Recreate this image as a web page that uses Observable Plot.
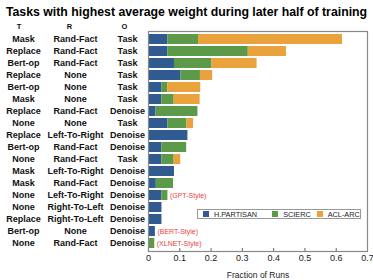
<!DOCTYPE html>
<html><head><meta charset="utf-8">
<script src="https://cdn.jsdelivr.net/npm/d3@7"></script>
<script src="https://cdn.jsdelivr.net/npm/@observablehq/plot@0.6"></script>
<style>
body{margin:0;background:#fff;font-family:"Liberation Sans",Arial,sans-serif;}
#wrap{position:relative;width:373px;height:280px;}
#legend{position:absolute;left:197px;top:209px;width:164px;height:10px;border:1px solid #999;background:#fff;display:flex;align-items:center;font-size:7.3px;color:#222;box-sizing:border-box;white-space:nowrap;}
#legend .sw{display:inline-block;width:6px;height:6px;margin-right:5px;}
</style></head>
<body><div id="wrap"></div>
<script>
const T = ["Mask","Replace","Bert-op","Replace","Bert-op","Mask","Replace","None","Replace","Bert-op","None","Mask","Mask","None","None","Replace","Bert-op","None"];
const R = ["Rand-Fact","Rand-Fact","Rand-Fact","None","None","None","Rand-Fact","None","Left-To-Right","Rand-Fact","Rand-Fact","Left-To-Right","Rand-Fact","Left-To-Right","Right-To-Left","Right-To-Left","None","Rand-Fact"];
const O = ["Task","Task","Task","Task","Task","Task","Denoise","Task","Denoise","Denoise","Task","Denoise","Denoise","Denoise","Denoise","Denoise","Denoise","Denoise"];
const hpartisan = [0.062,0.062,0.083,0.104,0.043,0.043,0.024,0.062,0.126,0.043,0.043,0.083,0.025,0.043,0.043,0.043,0.022,0.000];
const scierc    = [0.098,0.257,0.120,0.062,0.019,0.039,0.134,0.061,0.000,0.079,0.039,0.000,0.055,0.019,0.000,0.000,0.000,0.020];
const aclarc    = [0.460,0.122,0.144,0.039,0.105,0.083,0.000,0.021,0.000,0.000,0.021,0.000,0.000,0.000,0.000,0.000,0.000,0.000];
const notes = ["","","","","","","","","","","","","","(GPT-Style)","","","(BERT-Style)","(XLNET-Style)"];
const seriesNames = ["H.PARTISAN","SCIERC","ACL-ARC"];
const colors = ["#2f5b91","#5c9a49","#e9a23c"];
const xTicks = [0,0.1,0.2,0.3,0.4,0.5,0.6,0.7];
const title = "Tasks with highest average weight during later half of training";
const xLabel = "Fraction of Runs";
const headers = ["T","R","O"];

const idx = d3.range(T.length);
const rows = [];
idx.forEach(i => {
  rows.push({i, s: seriesNames[0], v: hpartisan[i]});
  rows.push({i, s: seriesNames[1], v: scierc[i]});
  rows.push({i, s: seriesNames[2], v: aclarc[i]});
});
const totals = idx.map(i => ({i, t: hpartisan[i]+scierc[i]+aclarc[i], n: notes[i]}));
const lab = idx.map(i => ({i, T: T[i], R: R[i], O: O[i]}));

const chart = Plot.plot({
  width: 373, height: 280,
  marginLeft: 148, marginRight: 6, marginTop: 31, marginBottom: 29,
  style: {fontFamily:"Liberation Sans, Arial, sans-serif", background:"#fff"},
  x: {domain:[0,0.7], ticks: xTicks},
  y: {domain: idx, padding: 0.17, axis: null},
  color: {domain: seriesNames, range: colors},
  marks: [
    Plot.barX(rows, Plot.stackX({x:"v", y:"i", fill:"s", order: seriesNames})),
    Plot.text(totals, {x:"t", y:"i", text:"n", textAnchor:"start", dx:2, fill:"#e8453c", fontSize:7}),
    Plot.text(lab, {y:"i", text:"T", frameAnchor:"left", dx:-125, textAnchor:"middle", fontWeight:"bold", fontSize:9, fill:"#111"}),
    Plot.text(lab, {y:"i", text:"R", frameAnchor:"left", dx:-73, textAnchor:"middle", fontWeight:"bold", fontSize:9, fill:"#111"}),
    Plot.text(lab, {y:"i", text:"O", frameAnchor:"left", dx:-21, textAnchor:"middle", fontWeight:"bold", fontSize:9, fill:"#111"}),
    Plot.text([headers[0]], {frameAnchor:"top-left", dx:-129.5, dy:-5, text:d=>d, lineAnchor:"middle", textAnchor:"middle", fontWeight:"bold", fontSize:7.5, fill:"#111"}),
    Plot.text([headers[1]], {frameAnchor:"top-left", dx:-79, dy:-5, text:d=>d, lineAnchor:"middle", textAnchor:"middle", fontWeight:"bold", fontSize:7.5, fill:"#111"}),
    Plot.text([headers[2]], {frameAnchor:"top-left", dx:-24, dy:-5, text:d=>d, lineAnchor:"middle", textAnchor:"middle", fontWeight:"bold", fontSize:7.5, fill:"#111"}),
    Plot.text([title], {frameAnchor:"top", dx:-71.5, dy:-19.5, text:d=>d, lineAnchor:"middle", fontWeight:"bold", fontSize:12.3, fill:"#000"}),
    Plot.axisX({ticks: xTicks, tickSize:-3, tickPadding:6, tickFormat:d=>d===0?"0":String(d), fontSize:9, fill:"#222", stroke:"#666", label:null}),
    Plot.text([xLabel], {frameAnchor:"bottom", dy:23.5, text:d=>d, lineAnchor:"middle", fontSize:8.5, fill:"#222"}),
    Plot.frame({stroke:"#888", strokeWidth:1.2})
  ]
});
const wrap = document.getElementById("wrap");
wrap.appendChild(chart);
const leg = document.createElement("div");
leg.id = "legend";
const lefts = [5, 15, 6];
seriesNames.forEach((s,k) => {
  const sw = document.createElement("span"); sw.className="sw"; sw.style.background = colors[k];
  sw.style.marginLeft = lefts[k] + "px";
  const t = document.createElement("span"); t.textContent = s;
  leg.appendChild(sw); leg.appendChild(t);
});
wrap.appendChild(leg);
</script></body></html>
